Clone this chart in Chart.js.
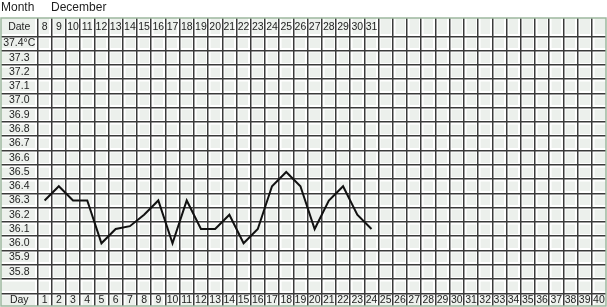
<!DOCTYPE html>
<html><head><meta charset="utf-8">
<script src="https://cdn.jsdelivr.net/npm/chart.js@4/dist/chart.umd.min.js"></script>
<style>html,body{margin:0;padding:0;background:#fff;}canvas{display:block}</style>
</head><body>
<canvas id="c" width="607" height="307"></canvas>
<script>
// ---- data ----
const monthLabel = 'Month';
const monthName = 'December';
const dayNumbers = [1,2,3,4,5,6,7,8,9,10,11,12,13,14,15,16,17,18,19,20,21,22,23,24,25,26,27,28,29,30,31,32,33,34,35,36,37,38,39,40];
const dateLabels = ['8','9','10','11','12','13','14','15','16','17','18','19','20','21','22','23','24','25','26','27','28','29','30','31'];
const tempTicks = [37.4,37.3,37.2,37.1,37.0,36.9,36.8,36.7,36.6,36.5,36.4,36.3,36.2,36.1,36.0,35.9,35.8];
const tempTickLabels = ['37.4°C','37.3','37.2','37.1','37.0','36.9','36.8','36.7','36.6','36.5','36.4','36.3','36.2','36.1','36.0','35.9','35.8'];
const bbt = [36.3,36.4,36.3,36.3,36.0,36.1,36.12,36.2,36.3,36.0,36.3,36.1,36.1,36.2,36.0,36.1,36.4,36.5,36.4,36.1,36.3,36.4,36.2,36.1];

// ---- layout (not data) ----
const X_MIN = 0.5, X_MAX = dayNumbers.length + 0.5;
const ROW_TOP = tempTicks[0] + 0.05, ROW_BOTTOM = tempTicks[tempTicks.length-1] - 0.15;
const Y_MAX = ROW_TOP + 0.128, Y_MIN = ROW_BOTTOM - 0.089;
const Y_DATE = (ROW_TOP + Y_MAX) / 2, Y_DAY = (ROW_BOTTOM + Y_MIN) / 2;

const colBounds = [0.5].concat(dayNumbers.slice(0, -1).map(d => d + 0.5));
const rowBounds = [];
for (let i = 0; i <= tempTicks.length + 1; i++) rowBounds.push(+(ROW_TOP - i * 0.1).toFixed(3));

const FONT = {family: '"Liberation Sans", Arial, sans-serif', size: 10.5};
const TXT = '#1e1e1e';
const GRID = '#3a3a3a';
const LABEL_COL_PX = 36.5;

const mctx = document.createElement('canvas').getContext('2d');
mctx.font = FONT.size + 'px ' + FONT.family;
const yLabels = ['Date'].concat(tempTickLabels, ['Day']);
const widest = Math.max(...yLabels.map(t => mctx.measureText(t).width));
const yPad = LABEL_COL_PX / 2 - widest / 2;

const noPad = s => { s.paddingTop = 0; s.paddingBottom = 0; s.paddingLeft = 0; s.paddingRight = 0; };
const zero = s => { if (s.isHorizontal()) s.height = 0; else s.width = 0; noPad(s); };
const setTicks = vals => s => { s.ticks = vals.map(v => ({value: v})); };

const gridAxis = (type, pos, vals, color, width, z) => ({
  type: 'linear', position: pos, weight: 0,
  min: type === 'x' ? X_MIN : Y_MIN, max: type === 'x' ? X_MAX : Y_MAX,
  afterBuildTicks: setTicks(vals), afterFit: zero,
  ticks: {display: false},
  grid: {color: color, lineWidth: width, drawTicks: type === 'y', tickLength: LABEL_COL_PX, z: z},
  border: {display: false}
});

const bg = {
  id: 'bg',
  beforeDraw(chart) {
    const {ctx, chartArea: a} = chart;
    const left = chart.scales.yLab.left;
    ctx.save();
    ctx.fillStyle = '#fff';
    ctx.fillRect(0, 0, chart.width, chart.height);
    ctx.fillStyle = '#ecf0ec';
    ctx.fillRect(left, a.top, a.right - left, a.bottom - a.top);
    ctx.restore();
  },
  afterDraw(chart) {
    const {ctx, chartArea: a} = chart;
    const left = chart.scales.yLab.left;
    ctx.save();
    ctx.strokeStyle = '#9db89f';
    ctx.lineWidth = 1.5;
    ctx.strokeRect(left, a.top, a.right - left, a.bottom - a.top);
    ctx.restore();
  }
};

new Chart(document.getElementById('c'), {
  type: 'line',
  data: {
    datasets: [{
      data: bbt.map((t, i) => ({x: dayNumbers[i], y: t})),
      xAxisID: 'x', yAxisID: 'y',
      borderColor: '#111', borderWidth: 2, pointRadius: 0, tension: 0, fill: false
    }]
  },
  options: {
    responsive: false, animation: false,
    layout: {padding: {left: 1, right: 1, top: 0, bottom: 1}},
    plugins: {
      legend: {display: false}, tooltip: {enabled: false},
      title: {display: true, align: 'start', text: monthLabel + '\u00a0\u00a0\u00a0\u00a0\u00a0' + monthName,
        color: TXT, font: {family: FONT.family, size: 12, weight: 'normal', lineHeight: 1.2},
        padding: {top: 0, bottom: 3.6}}
    },
    scales: {
      xw: gridAxis('x', 'bottom', colBounds, '#ffffff', 4.5, -3),
      yw: gridAxis('y', 'left', rowBounds, '#ffffff', 4.5, -3),
      x: gridAxis('x', 'bottom', colBounds, GRID, 1.5, -2),
      y: gridAxis('y', 'left', rowBounds, GRID, 1.5, -2),
      xTop: {
        type: 'linear', position: 'top', min: X_MIN, max: X_MAX,
        afterBuildTicks: setTicks(dayNumbers.slice(0, dateLabels.length)),
        afterFit: zero,
        ticks: {mirror: true, padding: 2.6, autoSkip: false, maxRotation: 0, minRotation: 0,
          color: TXT, font: FONT, callback: (v, i) => dateLabels[i]},
        grid: {display: false, drawTicks: false}, border: {display: false}
      },
      xBottom: {
        type: 'linear', position: 'bottom', min: X_MIN, max: X_MAX,
        afterBuildTicks: setTicks(dayNumbers),
        afterFit: zero,
        ticks: {mirror: true, padding: 0, autoSkip: false, maxRotation: 0, minRotation: 0,
          color: TXT, font: FONT, callback: (v, i) => String(dayNumbers[i])},
        grid: {display: false, drawTicks: false}, border: {display: false}
      },
      yLab: {
        type: 'linear', position: 'left', weight: 10, min: Y_MIN, max: Y_MAX,
        afterBuildTicks: setTicks([Y_DATE].concat(tempTicks, [Y_DAY])),
        afterFit: s => { s.width = LABEL_COL_PX; noPad(s); },
        ticks: {crossAlign: 'center', padding: yPad, autoSkip: false,
          color: TXT, font: FONT, callback: (v, i) => yLabels[i]},
        grid: {display: false, drawTicks: false}, border: {display: false}
      }
    }
  },
  plugins: [bg]
});
</script>
</body></html>
